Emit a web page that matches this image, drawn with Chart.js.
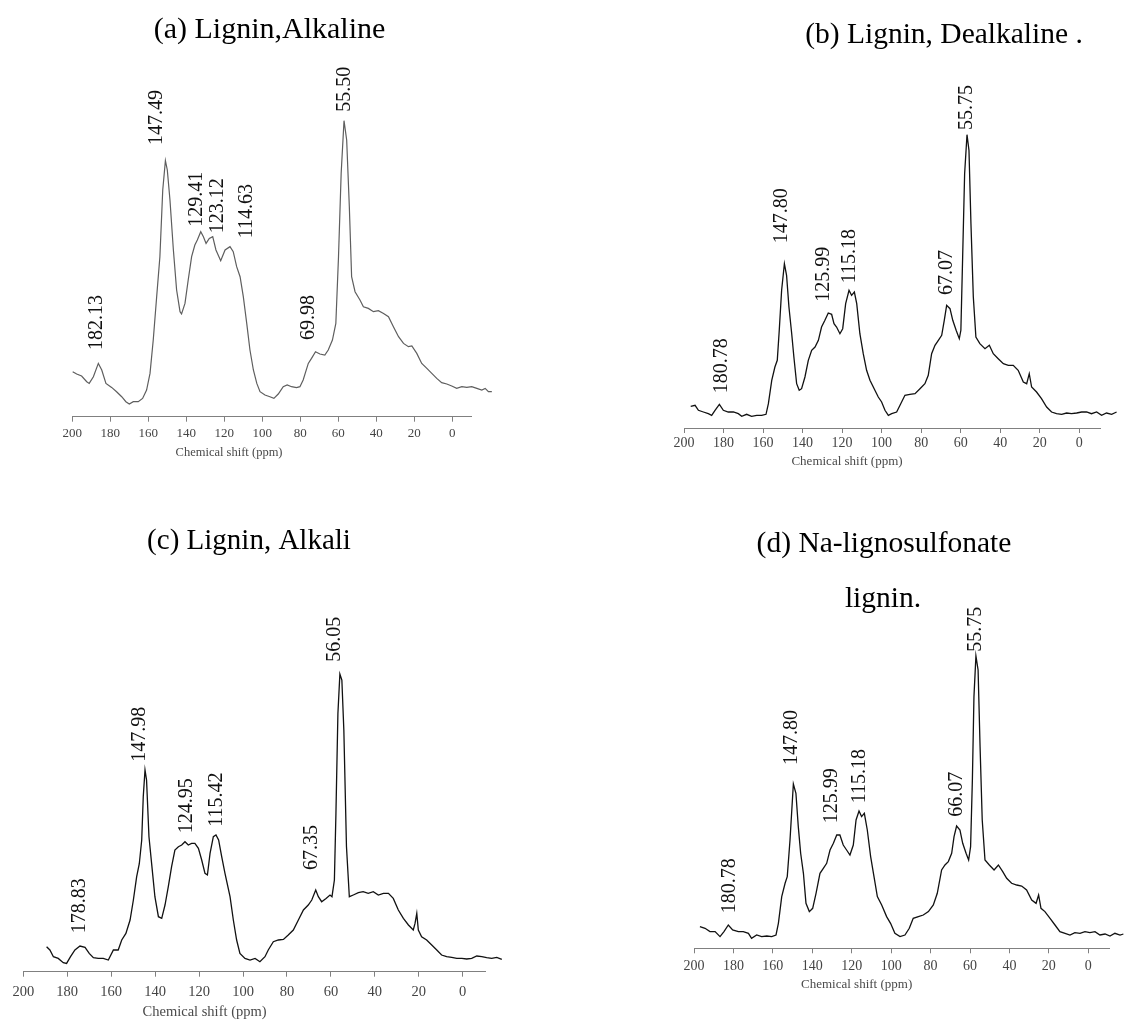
<!DOCTYPE html>
<html>
<head>
<meta charset="utf-8">
<script src="https://cdn.jsdelivr.net/npm/chart.js@4.4.1/dist/chart.umd.min.js"></script>
<style>
  html, body { margin: 0; padding: 0; background: #ffffff; }
  body { width: 1124px; height: 1021px; position: relative; overflow: hidden; }
  canvas { position: absolute; }
</style>
</head>
<body>
<canvas id="ca" width="562" height="510" style="left:0px;top:0px"></canvas>
<canvas id="cb" width="562" height="510" style="left:562px;top:0px"></canvas>
<canvas id="cc" width="562" height="511" style="left:0px;top:510px"></canvas>
<canvas id="cd" width="562" height="511" style="left:562px;top:510px"></canvas>
<script>
// ---------------- DATA ----------------
const tickValues = [200, 180, 160, 140, 120, 100, 80, 60, 40, 20, 0];
const axisTitle = 'Chemical shift (ppm)';

// (a) Lignin, Alkaline
const aTitle = ['(a) Lignin,Alkaline'];
const aShift = [199.8,197.7,195.1,192.4,191.1,188.9,186.3,184.5,182.3,179.3,
  176.7,174.0,171.8,170.0,167.9,165.3,163.0,160.9,159.1,157.4,
  155.6,153.9,152.4,151.0,150.0,148.6,146.8,145.1,143.3,142.5,
  140.7,139.0,137.2,135.5,134.2,132.4,131.0,129.6,127.9,126.1,
  124.4,121.9,119.6,117.0,115.3,113.5,111.7,110.0,108.2,106.5,
  104.7,102.9,101.2,98.6,96.0,93.9,91.6,89.0,86.9,84.6,
  82.0,80.2,78.5,75.8,74.1,72.0,69.7,67.1,65.3,63.1,
  61.3,59.9,58.5,57.0,55.6,54.2,53.0,51.2,48.6,46.8,
  44.2,41.5,38.9,36.2,33.6,31.0,28.3,25.7,23.1,21.3,
  18.7,16.1,13.4,10.8,8.2,5.6,2.9,0.3,-2.3,-5.0,
  -7.6,-10.2,-12.9,-15.5,-17.3,-19.0,-20.8];
const aIntensity = [45,42.7,40.7,35,33.3,40,53.3,46.7,33.3,29.3,
  25,20,15,12.7,15,15,18.3,26.7,43.3,76.7,
  120,160,226.7,256,246.7,216.7,166.7,126.7,105,102.7,
  113.3,136.7,160,171.7,176.7,185,180,173.3,178.3,180,
  166.7,156,166.7,170,165,150,140,120,93.3,66.7,
  46.7,33.3,25,21.7,20,18.3,22.7,30,31.7,30,
  29,30,36.7,53.3,58.3,65,62.7,61.7,66.7,76.7,
  93.3,160,243.3,296,276.7,210,140,125,116.7,110,
  108.3,105,106,103.3,100,90,80,73.3,70,70.7,
  63.3,53.3,48.3,43.3,38.3,34,32.7,30.7,28.3,30,
  29.3,30,28.3,26.7,28.3,25,25];
const aPeakLabels = ['182.13','147.49','129.41','123.12','114.63','69.98','55.50'];
const aPeakLabelShift = [187.2,155.6,134.5,123.2,108.2,75.8,56.5];
const aPeakLabelIntensity = [66.7,271.7,190,183.4,178.4,76.7,305];

// (b) Lignin, Dealkaline
const bTitle = ['(b) Lignin, Dealkaline .'];
const bShift = [196.6,194.4,192.7,190.2,187.7,186.0,184.3,182.1,180.1,177.6,
  175.0,172.5,170.8,168.3,165.8,163.2,160.7,158.5,157.3,155.6,
  154.0,152.8,151.8,150.6,149.2,148.1,146.9,145.5,144.4,143.0,
  141.7,140.5,138.8,137.1,135.4,133.7,132.0,130.4,128.7,127.0,
  125.3,124.1,122.8,121.1,119.7,118.2,116.5,115.2,113.8,112.6,
  111.0,109.3,107.6,105.9,103.4,101.7,100.0,98.3,96.6,94.9,
  92.4,90.7,88.2,85.7,83.1,80.6,78.1,76.4,74.7,73.0,
  71.3,69.6,68.3,67.1,65.4,64.0,62.3,60.7,59.9,59.0,
  58.0,56.8,55.8,54.8,53.6,52.3,50.3,47.7,45.5,43.5,
  41.0,38.4,35.9,33.4,30.9,28.3,26.6,25.3,24.1,21.6,
  19.1,16.5,14.0,11.5,8.9,6.4,3.9,1.3,-1.2,-3.7,
  -6.2,-8.8,-11.3,-13.8,-16.4,-18.9];
const bIntensity = [21.7,22.7,17.7,16,14.3,12.7,17.7,23.7,17.7,16,
  16,14.3,11.7,13.7,11.7,12.7,12.7,13.7,24.3,47.7,
  61,67.7,97.7,137.7,164.3,152.7,121,94.3,71,44.3,
  37.7,39.3,51,67.7,77.7,81,87.7,101,107.7,115,
  113.7,104.3,101,94.3,99.3,124.3,137.7,132.7,136,124.3,
  94.3,74.3,57.7,47.7,37.7,31,26,17.7,12.7,14.3,
  16,22.7,32.7,33.7,34.3,39.3,44.3,52.7,74.3,82.7,
  87.7,92.7,107.7,122.7,119.3,107.7,97.7,89.3,97.7,171,
  254.3,293.3,277.7,204.3,131,91,84.3,79.3,82.7,74.3,
  69.3,64.3,62.7,62.7,57.7,46,44.3,54.3,41,36,
  29.3,21,16,14.3,13.7,15,14.3,15,16,16,
  14.3,16,12.7,15,13.7,16];
const bPeakLabels = ['180.78','147.80','125.99','115.18','67.07','55.75'];
const bPeakLabelShift = [180.9,150.6,129.5,116.0,67.1,57.0];
const bPeakLabelIntensity = [34.7,184.7,126.3,144.7,133,298];

// (c) Lignin, Alkali
const cTitle = ['(c) Lignin, Alkali'];
const cShift = [189.4,187.9,186.3,184.1,181.8,180.3,178.5,176.5,174.2,171.9,
  170.0,168.1,165.9,163.6,161.3,159.0,156.8,155.2,153.3,151.4,
  149.9,148.4,147.2,146.1,145.4,144.6,143.9,142.8,141.6,140.1,
  138.5,137.0,135.5,134.0,132.5,131.0,129.4,127.9,126.4,124.9,
  123.4,121.9,120.3,118.8,117.3,116.2,115.0,113.5,112.3,111.1,
  109.7,108.2,105.9,104.4,102.9,101.4,99.1,96.8,94.5,92.3,
  90.0,88.5,86.2,83.9,81.6,79.4,77.1,74.8,72.5,70.3,
  68.7,66.9,65.7,64.2,62.2,60.4,59.5,58.4,57.7,56.8,
  55.9,55.0,54.1,52.9,51.6,49.8,47.5,45.3,43.0,40.7,
  38.4,36.1,33.8,31.6,29.3,27.0,24.7,22.5,21.7,20.9,
  20.2,18.7,16.4,14.1,11.8,9.6,7.3,5.0,2.7,0.4,
  -1.8,-4.1,-6.4,-8.7,-10.9,-13.2,-15.5,-17.8];
const cIntensity = [25,21.7,15,13.3,9,8.3,15,21.7,25.7,24.3,
  18.3,14,13.3,13.3,11.7,21.7,21.7,31.7,38.3,51.7,
  71.7,95,108,131.7,175,201.7,191.7,135,108.3,75,
  55,53.3,66.7,85,105,121.7,125,126.7,130,126.7,
  128.3,128.3,123.3,111.7,98.3,96.7,118.3,135,136.7,131.7,
  115,98.3,75,51.7,31.7,18.3,13.3,11.7,13.3,10,
  15,21.7,30,31.7,32.3,36.7,41.7,51.7,61.7,66.7,
  71.7,81.7,75,70,73.3,76.7,75,91.7,158.3,258.3,
  297.7,291.7,241.7,125,75,76.7,79,80,78.3,80,
  76.7,78.3,78.3,73.3,61.7,53.3,46.7,41.7,48.3,58.3,
  41.7,35,31.7,26.7,21.7,16.7,15,14.3,13.3,13.3,
  12.7,13.3,15.7,15,14,13.3,14.3,12.3];
const cPeakLabels = ['178.83','147.98','124.95','115.42','67.35','56.05'];
const cPeakLabelShift = [174.2,146.9,125.6,112.0,68.7,58.1];
const cPeakLabelIntensity = [38.4,210,138.4,145,101.7,310];

// (d) Na-lignosulfonate lignin
const dTitle = ['(d) Na-lignosulfonate', 'lignin.'];
const dShift = [197.0,194.4,191.9,189.3,186.8,184.8,182.6,180.4,177.5,175.0,
  172.4,170.8,168.2,165.7,163.1,160.6,158.4,157.2,155.5,153.8,
  152.7,151.3,149.6,148.3,147.1,145.9,144.5,143.2,141.5,139.8,
  138.1,136.1,134.4,132.7,131.0,129.3,127.6,126.0,124.3,122.6,
  120.9,119.2,117.8,116.3,115.0,113.6,112.1,110.4,108.7,107.0,
  104.8,102.3,100.3,98.1,95.5,93.0,90.8,88.8,86.2,83.7,
  81.1,78.6,76.6,74.4,72.7,71.0,69.3,68.1,66.8,65.1,
  63.7,62.0,60.7,59.7,58.8,58.0,57.0,55.9,54.9,53.8,
  52.4,50.2,47.8,45.6,43.4,41.4,38.9,36.3,33.8,31.3,
  28.7,26.5,25.2,24.0,22.0,19.4,16.9,14.4,11.8,9.3,
  6.8,4.2,1.7,-0.8,-3.4,-5.9,-8.5,-11.0,-13.5,-16.1,
  -17.8];
const dIntensity = [21.7,20,16.7,16.7,11.7,16.7,23.3,18.3,16.7,16.7,
  15,10,13.3,11.7,12.3,11.7,13.3,25,51.7,65,
  71.7,108.3,164.3,155,121.7,95,75,45,36.7,40,
  55,75,80,85,98.3,105,113.3,113.3,103.3,98.3,
  93.3,103.3,128.3,137.3,131.7,135,118.3,91.7,71.7,51.7,
  43.3,31.7,25,15,11.7,13.3,20,30,31.7,33.3,
  36.7,43.3,55,78.3,83.3,86.7,95,111.7,122.3,118.3,
  105,95,88.3,101.7,168.3,251.7,292.3,278.3,201.7,128.3,
  88.3,83.3,78.3,83.3,76.7,70,65,63.3,62.3,58.3,
  48.3,45,53.3,40,36.7,30,23.3,16.7,15,13.3,
  15.7,15,16.7,15.7,16.7,13.3,14.3,12.3,15,13.3,
  14.3];
const dPeakLabels = ['180.78','147.80','125.99','115.18','66.07','55.75'];
const dPeakLabelShift = [181.7,150.4,130.2,115.8,66.8,57.0];
const dPeakLabelIntensity = [35,183.3,125,145,131.6,296.6];

// ---------------- LAYOUT / STYLE ----------------
const SERIF = '"Liberation Serif", "Times New Roman", Times, serif';
const AXIS_BOX = 40;

const panels = [
  { id: 'ca', shift: aShift, intensity: aIntensity, labels: aPeakLabels, labelShift: aPeakLabelShift, labelIntensity: aPeakLabelIntensity,
    title: aTitle, titleX: [269.5], titleY: [38.3], titleSize: 30, xMin: -10.2,
    pad: { left: 72.3, right: 90.3, top: 96.7, bottom: 510 - 416.7 - AXIS_BOX },
    line: '#5e5e5e', lineWidth: 1.2, tickSize: 13, tickPad: 3.8, axTitleSize: 12.5, axTitleOffset: 35.6 },
  { id: 'cb', shift: bShift, intensity: bIntensity, labels: bPeakLabels, labelShift: bPeakLabelShift, labelIntensity: bPeakLabelIntensity,
    title: bTitle, titleX: [382], titleY: [43.3], titleSize: 29.5, xMin: -10.5,
    pad: { left: 122, right: 24, top: 108, bottom: 510 - 428 - AXIS_BOX },
    line: '#111111', lineWidth: 1.3, tickSize: 14, tickPad: 2, axTitleSize: 13, axTitleOffset: 33.5 },
  { id: 'cc', shift: cShift, intensity: cIntensity, labels: cPeakLabels, labelShift: cPeakLabelShift, labelIntensity: cPeakLabelIntensity,
    title: cTitle, titleX: [249], titleY: [39.3], titleSize: 29, xMin: -10.15,
    pad: { left: 23.3, right: 77, top: 141.7, bottom: 511 - 461.7 - AXIS_BOX },
    line: '#111111', lineWidth: 1.3, tickSize: 14.5, tickPad: 6.3, axTitleSize: 14.5, axTitleOffset: 40 },
  { id: 'cd', shift: dShift, intensity: dIntensity, labels: dPeakLabels, labelShift: dPeakLabelShift, labelIntensity: dPeakLabelIntensity,
    title: dTitle, titleX: [322, 321], titleY: [41.7, 96.7], titleSize: 29.5, xMin: -10.5,
    pad: { left: 132, right: 15, top: 118.3, bottom: 511 - 438.3 - AXIS_BOX },
    line: '#111111', lineWidth: 1.3, tickSize: 14, tickPad: 5, axTitleSize: 13, axTitleOffset: 36.7 }
];

function makeAnnotations(p) {
  return {
    id: 'annot_' + p.id,
    afterDatasetsDraw(chart) {
      const ctx = chart.ctx;
      const xs = chart.scales.x, ys = chart.scales.y;
      ctx.save();
      // peak labels (rotated)
      ctx.fillStyle = '#111';
      ctx.font = '20px ' + SERIF;
      p.labels.forEach((t, i) => {
        const x = xs.getPixelForValue(p.labelShift[i]);
        const y = ys.getPixelForValue(p.labelIntensity[i]);
        ctx.save();
        ctx.translate(x, y);
        ctx.rotate(-Math.PI / 2);
        ctx.textAlign = 'left';
        ctx.textBaseline = 'middle';
        ctx.fillText(t, 0, 0);
        ctx.restore();
      });
      // axis title
      ctx.fillStyle = '#4a4a4a';
      ctx.font = p.axTitleSize + 'px ' + SERIF;
      ctx.textAlign = 'center';
      ctx.textBaseline = 'middle';
      ctx.fillText(axisTitle, xs.getPixelForValue(117.5), chart.chartArea.bottom + p.axTitleOffset);
      // panel title
      ctx.fillStyle = '#000';
      ctx.font = p.titleSize + 'px ' + SERIF;
      ctx.textBaseline = 'alphabetic';
      p.title.forEach((t, i) => ctx.fillText(t, p.titleX[i], p.titleY[i]));
      ctx.restore();
    }
  };
}

panels.forEach(p => {
  const pts = p.shift.map((s, i) => ({ x: s, y: p.intensity[i] }));
  new Chart(document.getElementById(p.id), {
    type: 'line',
    data: {
      datasets: [{
        data: pts,
        borderColor: p.line,
        borderWidth: p.lineWidth,
        pointRadius: 0,
        tension: 0,
        fill: false,
        clip: false
      }]
    },
    options: {
      responsive: false,
      animation: false,
      events: [],
      layout: { padding: p.pad },
      plugins: { legend: { display: false }, tooltip: { enabled: false }, title: { display: false } },
      scales: {
        x: {
          type: 'linear',
          reverse: true,
          min: p.xMin,
          max: 200,
          afterBuildTicks: s => { s.ticks = tickValues.map(v => ({ value: v })); },
          afterFit: s => { s.height = AXIS_BOX; },
          grid: { drawOnChartArea: false, drawTicks: true, tickLength: 5, color: '#808080', lineWidth: 1 },
          border: { display: true, color: '#808080', width: 1 },
          ticks: { autoSkip: false, maxRotation: 0, minRotation: 0, padding: p.tickPad, color: '#444',
                   font: { family: SERIF, size: p.tickSize } },
          title: { display: false }
        },
        y: { display: false, min: 0, max: 320 }
      }
    },
    plugins: [makeAnnotations(p)]
  });
});
</script>
</body>
</html>
